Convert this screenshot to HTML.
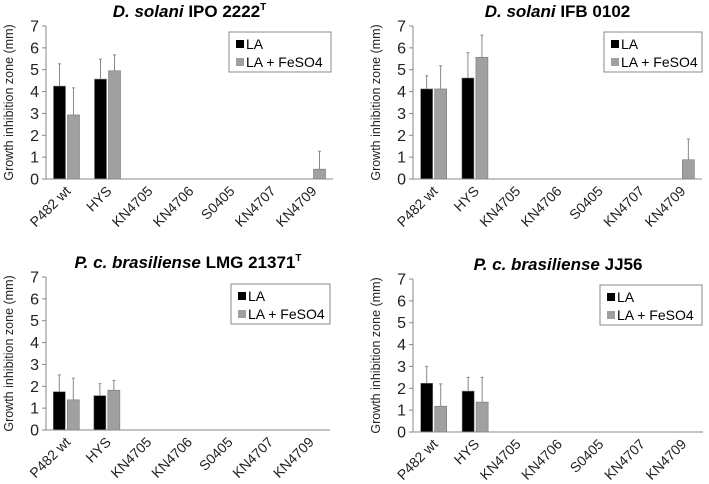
<!DOCTYPE html>
<html><head><meta charset="utf-8"><style>
body{margin:0;background:#fff;width:709px;height:484px;overflow:hidden}
svg{position:absolute;left:0;top:0}
text{font-family:"Liberation Sans",Arial,sans-serif}
</style></head><body>
<svg id="c" width="709" height="484"></svg>
<script>
const categories=["P482 wt","HYS","KN4705","KN4706","S0405","KN4707","KN4709"];
const yTicks=[0,1,2,3,4,5,6,7];
const titles=[["D. solani"," IPO 2222","T"],["D. solani"," IFB 0102",""],["P. c. brasiliense"," LMG 21371","T"],["P. c. brasiliense"," JJ56",""]];
const laValues=[[4.25,4.57,0,0,0,0,0],[4.12,4.62,0,0,0,0,0],[1.75,1.57,0,0,0,0,0],[2.23,1.87,0,0,0,0,0]];
const laErrTop=[[5.27,5.48,0,0,0,0,0],[4.72,5.78,0,0,0,0,0],[2.52,2.12,0,0,0,0,0],[3.0,2.5,0,0,0,0,0]];
const feValues=[[2.93,4.95,0,0,0,0,0.45],[4.12,5.57,0,0,0,0,0.88],[1.38,1.82,0,0,0,0,0],[1.18,1.37,0,0,0,0,0]];
const feErrTop=[[4.17,5.68,0,0,0,0,1.27],[5.18,6.58,0,0,0,0,1.83],[2.37,2.27,0,0,0,0,0],[2.2,2.5,0,0,0,0,0]];
const panels=[{l:46,r:333,t:26,b:179,lx:229,ly:32,lr:331},{l:413,r:702,t:26,b:179,lx:604,ly:32,lr:702},{l:46,r:330,t:277,b:430,lx:231,ly:284,lr:330},{l:413,r:703,t:279,b:432,lx:600,ly:285,lr:702}];
const svg=document.getElementById('c');const NS='http://www.w3.org/2000/svg';
function mk(tag,attrs,parent,txt){const e=document.createElementNS(NS,tag);for(const k in attrs)e.setAttribute(k,attrs[k]);if(txt!==undefined)e.textContent=txt;(parent||svg).appendChild(e);return e;}
panels.forEach((p,i)=>{
  const g=mk('g',{});
  
  
  const y=v=>p.b-(v/7)*(p.b-p.t);
  const cw=(p.r-p.l)/categories.length;
  const cx=k=>p.l+cw*(k+0.5);
  const tt=mk('text',{x:(p.l+p.r)/2,y:p.t-9,'text-anchor':'middle','font-size':17,'font-weight':'bold'},g);
  
  
  mk('tspan',{'font-style':'italic'},tt,titles[i][0]);
  mk('tspan',{},tt,titles[i][1]);
  if(titles[i][2])mk('tspan',{'font-size':10,dy:-7},tt,titles[i][2]);
  const yt=mk('text',{transform:`translate(${p.l-33},${(p.t+p.b)/2}) rotate(-90)`,'text-anchor':'middle','font-size':12.5,fill:'#222'},g,'Growth inhibition zone (mm)');
  
  
  yTicks.forEach(v=>{
    const t=mk('text',{x:p.l-7,y:y(v)+5.5,'text-anchor':'end','font-size':16,fill:'#222'},g,String(v));
    
    
    mk('line',{x1:p.l-4,x2:p.l,y1:y(v),y2:y(v),stroke:'#888'},g);
  });
  categories.forEach((c,k)=>{
    const yb=p.b;
    [[laValues[i][k],laErrTop[i][k],'#000',-13],[feValues[i][k],feErrTop[i][k],'#a0a0a0',1]].forEach((s,j)=>{
      if(s[0]<=0)return;
      const b=mk('rect',{x:cx(k)+s[3],y:y(s[0]),width:12,height:yb-y(s[0]),fill:s[2],stroke:'#777','stroke-width':0.6},g);
      
      
      mk('line',{x1:cx(k)+s[3]+6,x2:cx(k)+s[3]+6,y1:y(s[0]),y2:y(s[1]),stroke:'#888'},g);
      mk('line',{x1:cx(k)+s[3]+4.5,x2:cx(k)+s[3]+7.5,y1:y(s[1]),y2:y(s[1]),stroke:'#888'},g);
    });
    const xl=mk('text',{transform:`translate(${cx(k)+5},${p.b+13}) rotate(-45)`,'text-anchor':'end','font-size':14,fill:'#222'},g,c);
    
    
  });
  mk('line',{x1:p.l,x2:p.l,y1:p.t,y2:p.b,stroke:'#888'},g);
  mk('line',{x1:p.l,x2:p.r,y1:p.b,y2:p.b,stroke:'#888'},g);
  const lg=mk('g',{},g);
  
  
  mk('rect',{x:p.lx,y:p.ly,width:p.lr-p.lx,height:40,fill:'#fff',stroke:'#888'},lg);
  mk('rect',{x:p.lx+7,y:p.ly+8,width:8,height:8,fill:'#000'},lg);
  mk('text',{x:p.lx+17,y:p.ly+17,'font-size':14},lg,'LA');
  mk('rect',{x:p.lx+7,y:p.ly+26,width:8,height:8,fill:'#a0a0a0'},lg);
  mk('text',{x:p.lx+17,y:p.ly+35,'font-size':14},lg,'LA + FeSO4');
});
</script>
</body></html>
